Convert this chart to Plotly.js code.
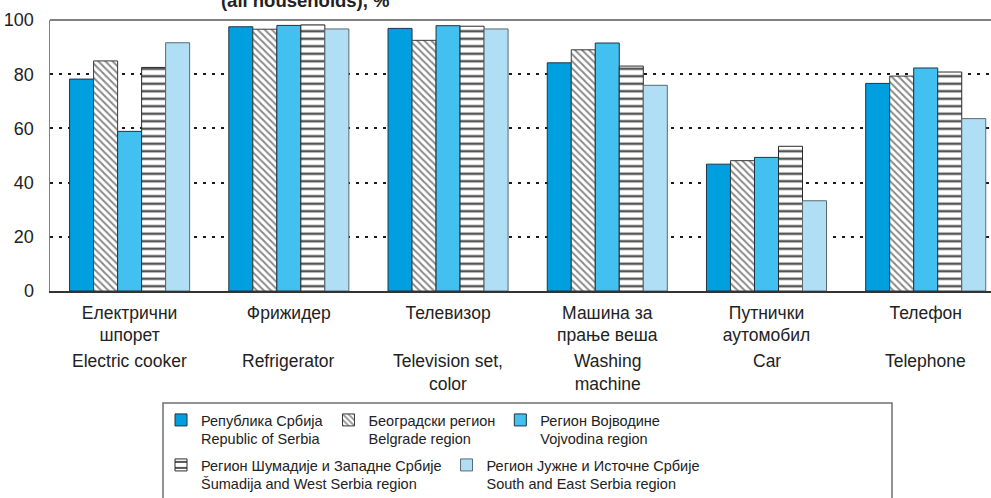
<!DOCTYPE html>
<html>
<head>
<meta charset="utf-8">
<script src="https://cdn.plot.ly/plotly-3.0.1.min.js"></script>
<style>
  html, body { margin: 0; padding: 0; background: #fff; overflow: hidden; }
  #chart { width: 991px; height: 498px; }
</style>
</head>
<body>
<div id="chart"></div>
<script>
// ---- data ----
const categoriesSr = ["Електрични<br>шпорет", "Фрижидер", "Телевизор", "Машина за<br>прање веша", "Путнички<br>аутомобил", "Телефон"];
const categoriesEn = ["Electric cooker", "Refrigerator", "Television set,<br>color", "Washing<br>machine", "Car", "Telephone"];
const seriesNames = [
  "Република Србија<br>Republic of Serbia",
  "Београдски регион<br>Belgrade region",
  "Регион Војводине<br>Vojvodina region",
  "Регион Шумадије и Западне Србије<br>Šumadija and West Serbia region",
  "Регион Јужне и Источне Србије<br>South and East Serbia region"
];
const republic  = [78.2, 97.5, 96.9, 84.2, 46.8, 76.6];
const belgrade  = [84.9, 96.6, 92.5, 89.0, 48.1, 79.3];
const vojvodina = [58.9, 98.0, 97.9, 91.5, 49.3, 82.3];
const sumadija  = [82.5, 98.2, 97.7, 83.0, 53.4, 80.8];
const southEast = [91.6, 96.7, 96.7, 75.9, 33.3, 63.6];
const yTicks = [0, 20, 40, 60, 80, 100];
const titleText = "(all households), %";

const idx = categoriesSr.map((_, i) => i);
const FONT = "Liberation Sans, Arial, sans-serif";

const styles = [
  {color: "#00a0e0", line: {color: "#1d3446", width: 1}},
  {color: "#ffffff", line: {color: "#3a3a3a", width: 1},
   pattern: {shape: "\\", fgcolor: "#8a8a8a", bgcolor: "#ffffff", size: 5, solidity: 0.4}},
  {color: "#42c0f0", line: {color: "#1d3446", width: 1}},
  {color: "#ffffff", line: {color: "#2a2a2a", width: 1},
   pattern: {shape: "-", fgcolor: "#555555", bgcolor: "#ffffff", size: 7.5, solidity: 0.33}},
  {color: "#b0dff5", line: {color: "#5a6870", width: 1}}
];
const values = [republic, belgrade, vojvodina, sumadija, southEast];
const legendOf = ["legend", "legend", "legend", "legend2", "legend2"];

const traces = values.map((v, k) => ({
  type: "bar",
  x: idx,
  y: v,
  name: seriesNames[k],
  marker: styles[k],
  legend: legendOf[k],
  hoverinfo: "skip"
}));

const annotations = categoriesEn.map((t, i) => ({
  x: i, xref: "x",
  y: -0.213, yref: "paper",
  yanchor: "top", xanchor: "center",
  text: t, showarrow: false,
  font: {family: FONT, size: 17.5, color: "#222"}
}));

const legendFont = {family: FONT, size: 14.5, color: "#222"};

const layout = {
  width: 991, height: 498,
  margin: {l: 50, r: 0, t: 20, b: 207, pad: 0},
  paper_bgcolor: "#ffffff",
  plot_bgcolor: "#ffffff",
  barmode: "group",
  bargap: 0.246,
  bargroupgap: 0,
  title: {
    text: "<b>" + titleText + "</b>",
    x: 0.308, xref: "container", xanchor: "center",
    y: 0.999, yref: "container", yanchor: "middle",
    font: {family: FONT, size: 18.5, color: "#222"}
  },
  xaxis: {
    range: [-0.5, 5.41],
    tickvals: idx,
    ticktext: categoriesSr,
    ticks: "",
    showgrid: false,
    zeroline: false,
    showline: true,
    linecolor: "#333",
    linewidth: 1.5,
    ticklabelstandoff: 5,
    tickfont: {family: FONT, size: 17.5, color: "#222"},
    fixedrange: true
  },
  yaxis: {
    range: [0, 100],
    tickvals: yTicks,
    ticktext: yTicks.map(String),
    ticks: "",
    showgrid: true,
    gridcolor: "#1a1a1a",
    gridwidth: 2,
    griddash: "3px,6px",
    zeroline: false,
    showline: true,
    linecolor: "#808080",
    linewidth: 1.5,
    ticklabelstandoff: 11,
    tickfont: {family: FONT, size: 18, color: "#222"},
    fixedrange: true
  },
  showlegend: true,
  legend: {
    orientation: "h",
    xref: "container", yref: "container",
    x: 161 / 991, xanchor: "left",
    y: 1 - 404 / 498, yanchor: "top",
    valign: "top",
    bgcolor: "rgba(0,0,0,0)",
    borderwidth: 0,
    font: legendFont,
    traceorder: "normal"
  },
  legend2: {
    orientation: "h",
    xref: "container", yref: "container",
    x: 161 / 991, xanchor: "left",
    y: 1 - 449 / 498, yanchor: "top",
    valign: "top",
    bgcolor: "rgba(0,0,0,0)",
    borderwidth: 0,
    font: legendFont,
    traceorder: "normal"
  },
  shapes: [
    {type: "line", xref: "paper", yref: "paper", x0: 0, x1: 1, y0: 1, y1: 1,
     line: {color: "#808080", width: 2}},
    {type: "rect", xref: "paper", yref: "paper",
     x0: (163 - 50) / 941, x1: (892 - 50) / 941,
     y0: (291 - 403) / 271, y1: (291 - 530) / 271,
     line: {color: "#707070", width: 1.5}, fillcolor: "rgba(0,0,0,0)"}
  ],
  annotations: annotations
};

Plotly.newPlot("chart", traces, layout, {displayModeBar: false, staticPlot: true});
</script>
</body>
</html>
